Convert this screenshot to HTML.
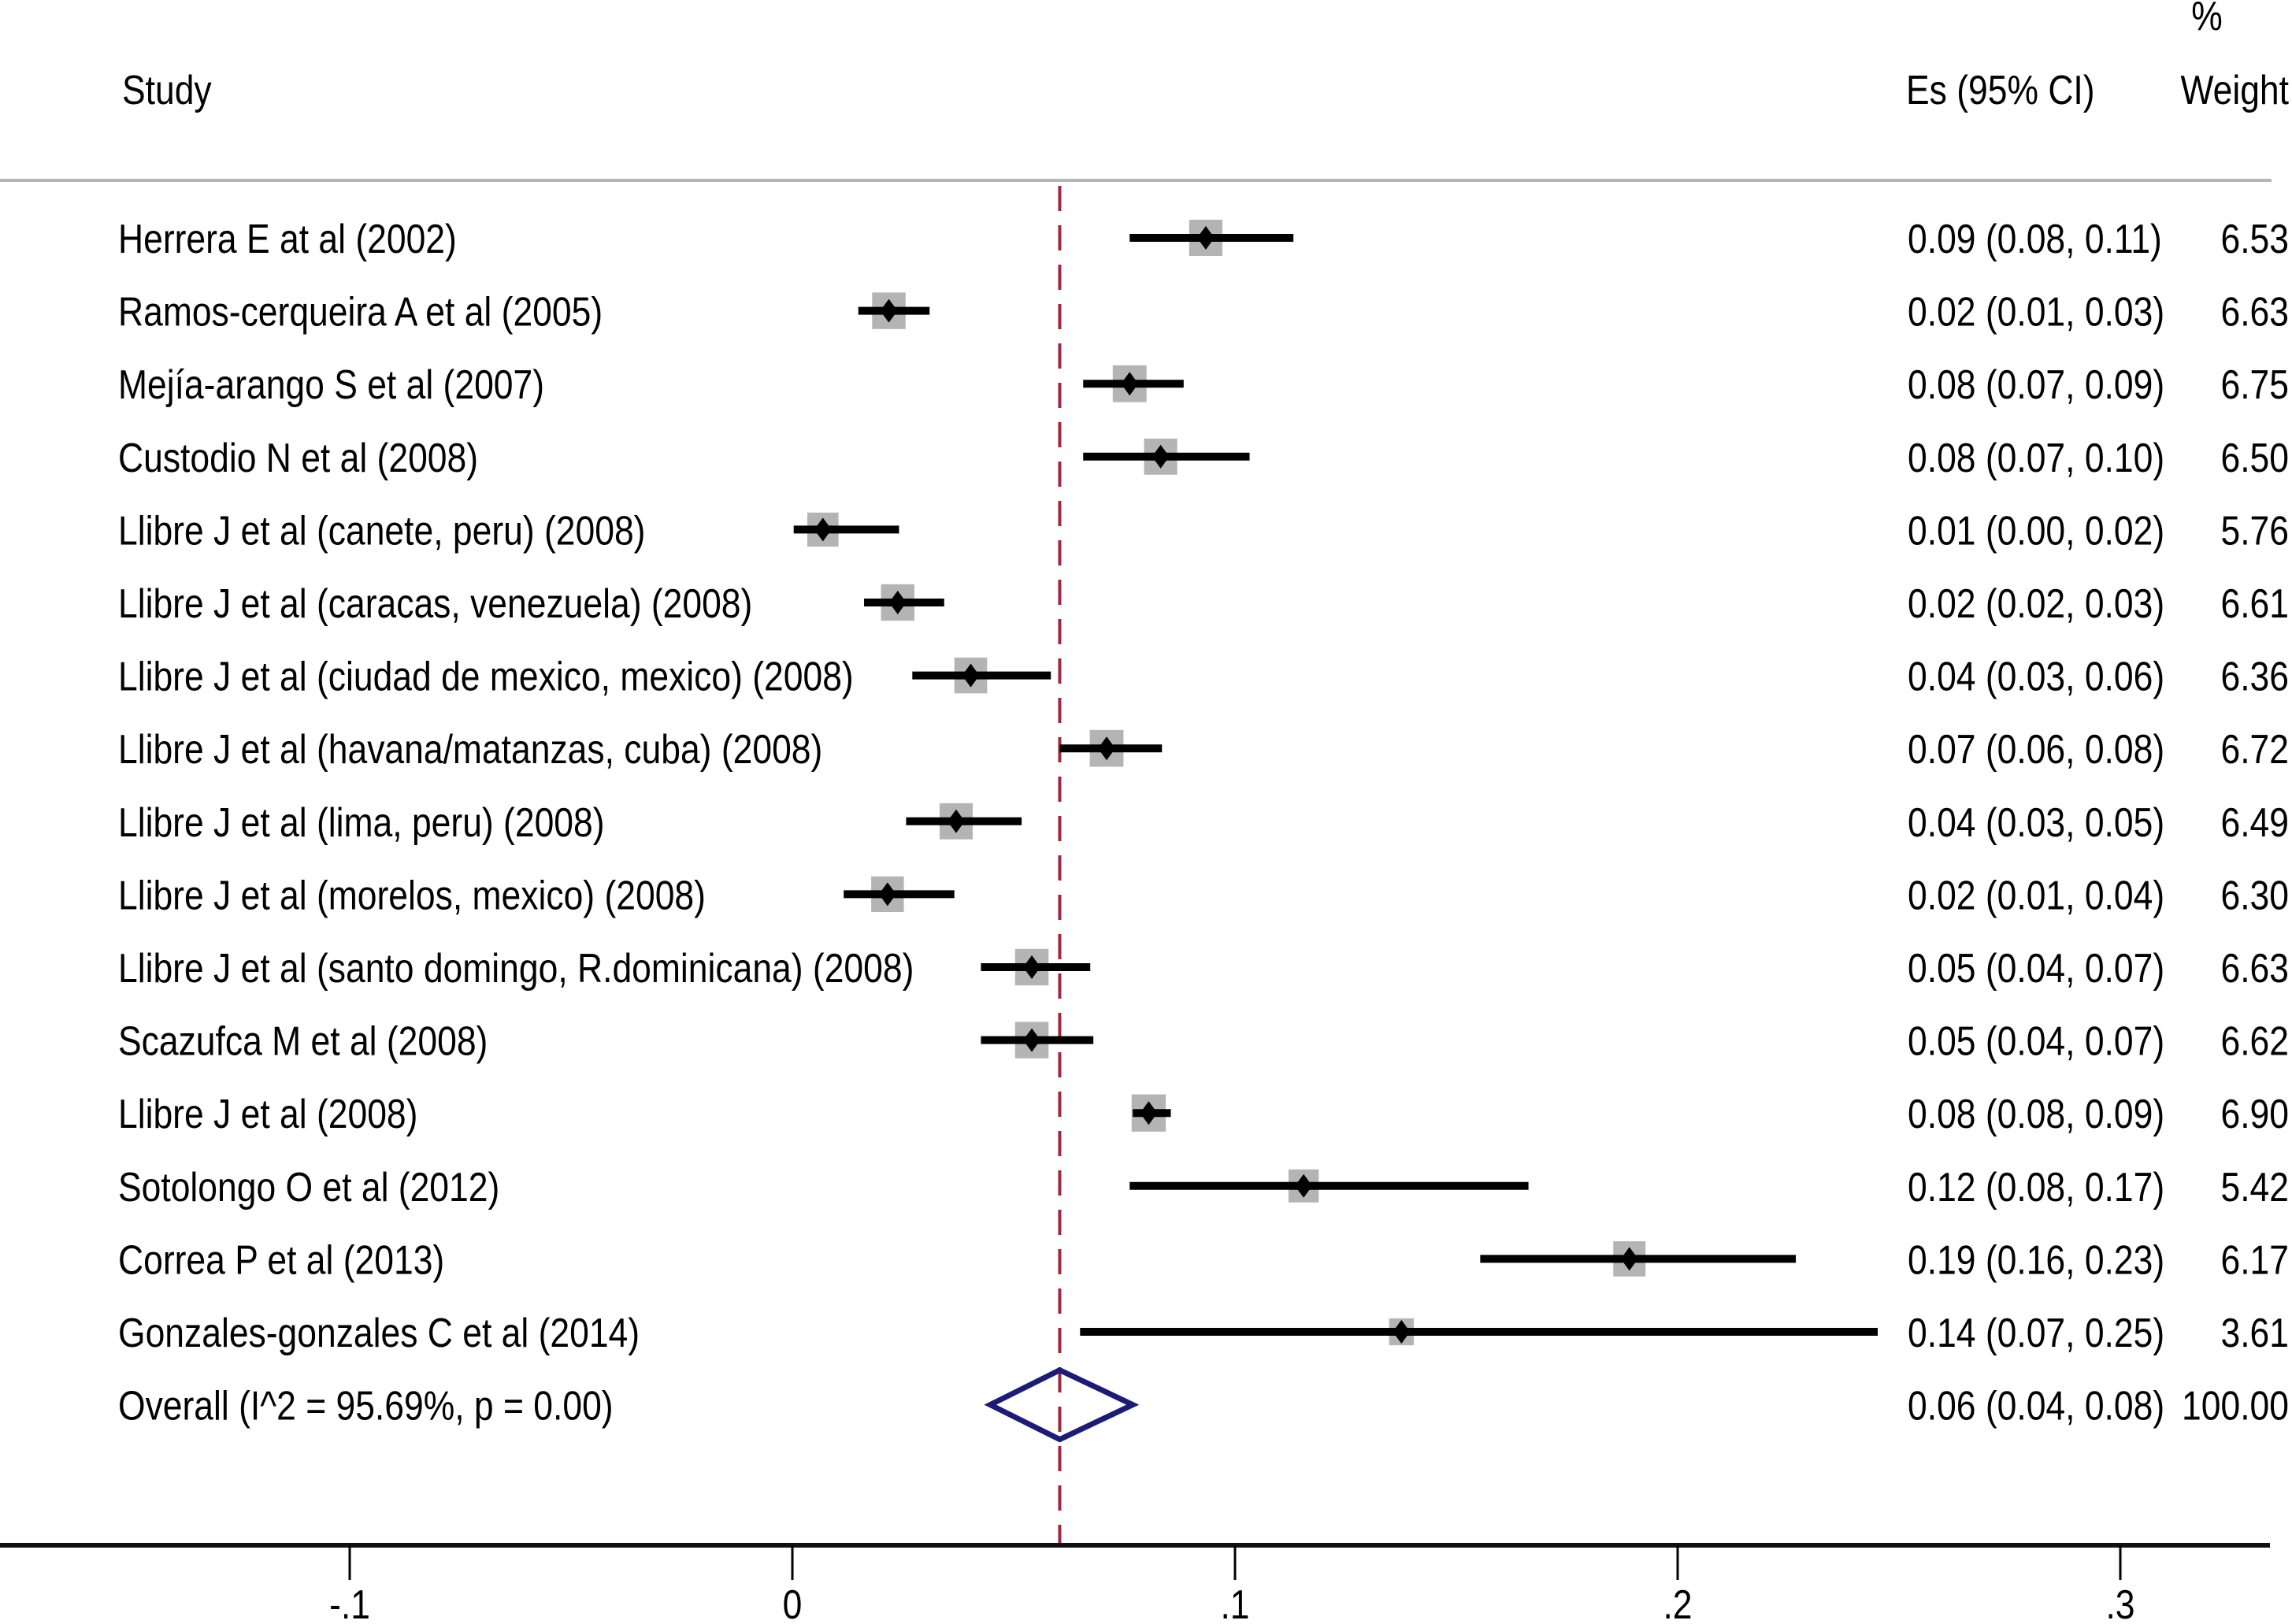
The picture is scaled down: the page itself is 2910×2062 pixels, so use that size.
<!DOCTYPE html>
<html><head><meta charset="utf-8"><style>
html,body{margin:0;padding:0;background:#fff;}
svg{display:block;font-family:"Liberation Sans",Arial,sans-serif;}
</style></head><body>
<svg id="chart" width="2910" height="2062" viewBox="0 0 2910 2062" xmlns="http://www.w3.org/2000/svg">
<rect width="2910" height="2062" fill="#fff"/>
<g id="header"></g>
<line x1="0" y1="229" x2="2884" y2="229" stroke="#b5b5b5" stroke-width="4"/>
<g id="ref"></g>
<g id="rows"></g>
<g id="axis"></g>
</svg>
<script>
const studies = ["Herrera E at al (2002)","Ramos-cerqueira A et al (2005)","Mejía-arango S et al (2007)","Custodio N et al (2008)","Llibre J et al (canete, peru) (2008)","Llibre J et al (caracas, venezuela) (2008)","Llibre J et al (ciudad de mexico, mexico) (2008)","Llibre J et al (havana/matanzas, cuba) (2008)","Llibre J et al (lima, peru) (2008)","Llibre J et al (morelos, mexico) (2008)","Llibre J et al (santo domingo, R.dominicana) (2008)","Scazufca M et al (2008)","Llibre J et al (2008)","Sotolongo O et al (2012)","Correa P et al (2013)","Gonzales-gonzales C et al (2014)"];
const es = [0.0934,0.0218,0.0762,0.0832,0.0069,0.0238,0.0403,0.0710,0.0370,0.0215,0.0541,0.0541,0.0805,0.1155,0.1891,0.1376];
const lo = [0.0762,0.0149,0.0657,0.0657,0.0003,0.0162,0.0271,0.0604,0.0257,0.0116,0.0426,0.0426,0.0769,0.0762,0.1554,0.0650];
const hi = [0.1132,0.0310,0.0884,0.1033,0.0241,0.0343,0.0584,0.0835,0.0518,0.0366,0.0673,0.0680,0.0855,0.1663,0.2267,0.2452];
const esText = ["0.09 (0.08, 0.11)","0.02 (0.01, 0.03)","0.08 (0.07, 0.09)","0.08 (0.07, 0.10)","0.01 (0.00, 0.02)","0.02 (0.02, 0.03)","0.04 (0.03, 0.06)","0.07 (0.06, 0.08)","0.04 (0.03, 0.05)","0.02 (0.01, 0.04)","0.05 (0.04, 0.07)","0.05 (0.04, 0.07)","0.08 (0.08, 0.09)","0.12 (0.08, 0.17)","0.19 (0.16, 0.23)","0.14 (0.07, 0.25)"];
const weights = [6.53,6.63,6.75,6.50,5.76,6.61,6.36,6.72,6.49,6.30,6.63,6.62,6.90,5.42,6.17,3.61];
const overall = [0.0447,0.0604,0.0769];
const overallLabel = "Overall (I^2 = 95.69%, p = 0.00)";
const overallText = "0.06 (0.04, 0.08)";
const overallWeight = "100.00";
const ticks = [-0.1,0,0.1,0.2,0.3];
const tickLabels = ["-.1","0",".1",".2",".3"];

const NS="http://www.w3.org/2000/svg";
const xs = v => 1006 + v*5620;
const ys = i => 302 + i*92.6;
function mk(tag, attrs, parent){const e=document.createElementNS(NS,tag);for(const k in attrs)e.setAttribute(k,attrs[k]);parent.appendChild(e);return e;}
function txt(parent,x,y,s,anchor,sx){
  const g=mk('g',{transform:`translate(${x},${y}) scale(${sx||0.855},1)`},parent);
  const t=mk('text',{x:0,y:0,'font-size':52,fill:'#000','text-anchor':anchor||'start'},g);
  t.textContent=s;return t;
}
const hdr=document.getElementById('header');
let t;
t=txt(hdr,155,132,"Study");


t=txt(hdr,2420,132,"Es (95% CI)");


t=txt(hdr,2906,132,"Weight","end");


t=txt(hdr,2802,38,"%","middle");



const ref=document.getElementById('ref');
const rl=mk('line',{x1:xs(overall[1]),y1:236,x2:xs(overall[1]),y2:1960,stroke:'#a0283c','stroke-width':4,'stroke-dasharray':'32 18'},ref);



const rows=document.getElementById('rows');
studies.forEach((s,i)=>{
  const y=ys(i);
  const g=mk('g',{},rows);
  
  
  const lab=txt(g,150,y+19,s);
  
  
  const w=16.5*Math.sqrt(weights[i]), h=18*Math.sqrt(weights[i]);
  const box=mk('rect',{x:xs(es[i])-w/2,y:y-h/2,width:w,height:h,fill:'#b4b4b4'},g);
  
  
  const ci=mk('line',{x1:xs(lo[i]),y1:y,x2:xs(hi[i]),y2:y,stroke:'#000','stroke-width':10},g);
  
  
  const cx=xs(es[i]);
  const pt=mk('polygon',{points:`${cx},${y-15} ${cx+11},${y} ${cx},${y+15} ${cx-11},${y}`,fill:'#000'},g);
  
  
  const et=txt(g,2422,y+19,esText[i]);
  
  
  const wt=txt(g,2906,y+19,weights[i].toFixed(2),'end');
  
  
});
const oy=ys(16);
const og=mk('g',{},rows);


t=txt(og,150,oy+19,overallLabel);


const dia=mk('polygon',{points:`${xs(overall[0])},${oy} ${xs(overall[1])},${oy-44} ${xs(overall[2])},${oy} ${xs(overall[1])},${oy+44}`,fill:'none',stroke:'#1c1c78','stroke-width':7},og);


t=txt(og,2422,oy+19,overallText);


t=txt(og,2906,oy+19,overallWeight,'end');



const ax=document.getElementById('axis');
const al=mk('line',{x1:0,y1:1962,x2:2882,y2:1962,stroke:'#111','stroke-width':6},ax);


ticks.forEach((v,i)=>{
  const tk=mk('line',{x1:xs(v),y1:1962,x2:xs(v),y2:2006,stroke:'#000','stroke-width':3},ax);
  
  
  const tl=txt(ax,xs(v),2055,tickLabels[i],'middle');
  
  
});
</script>
</body></html>
